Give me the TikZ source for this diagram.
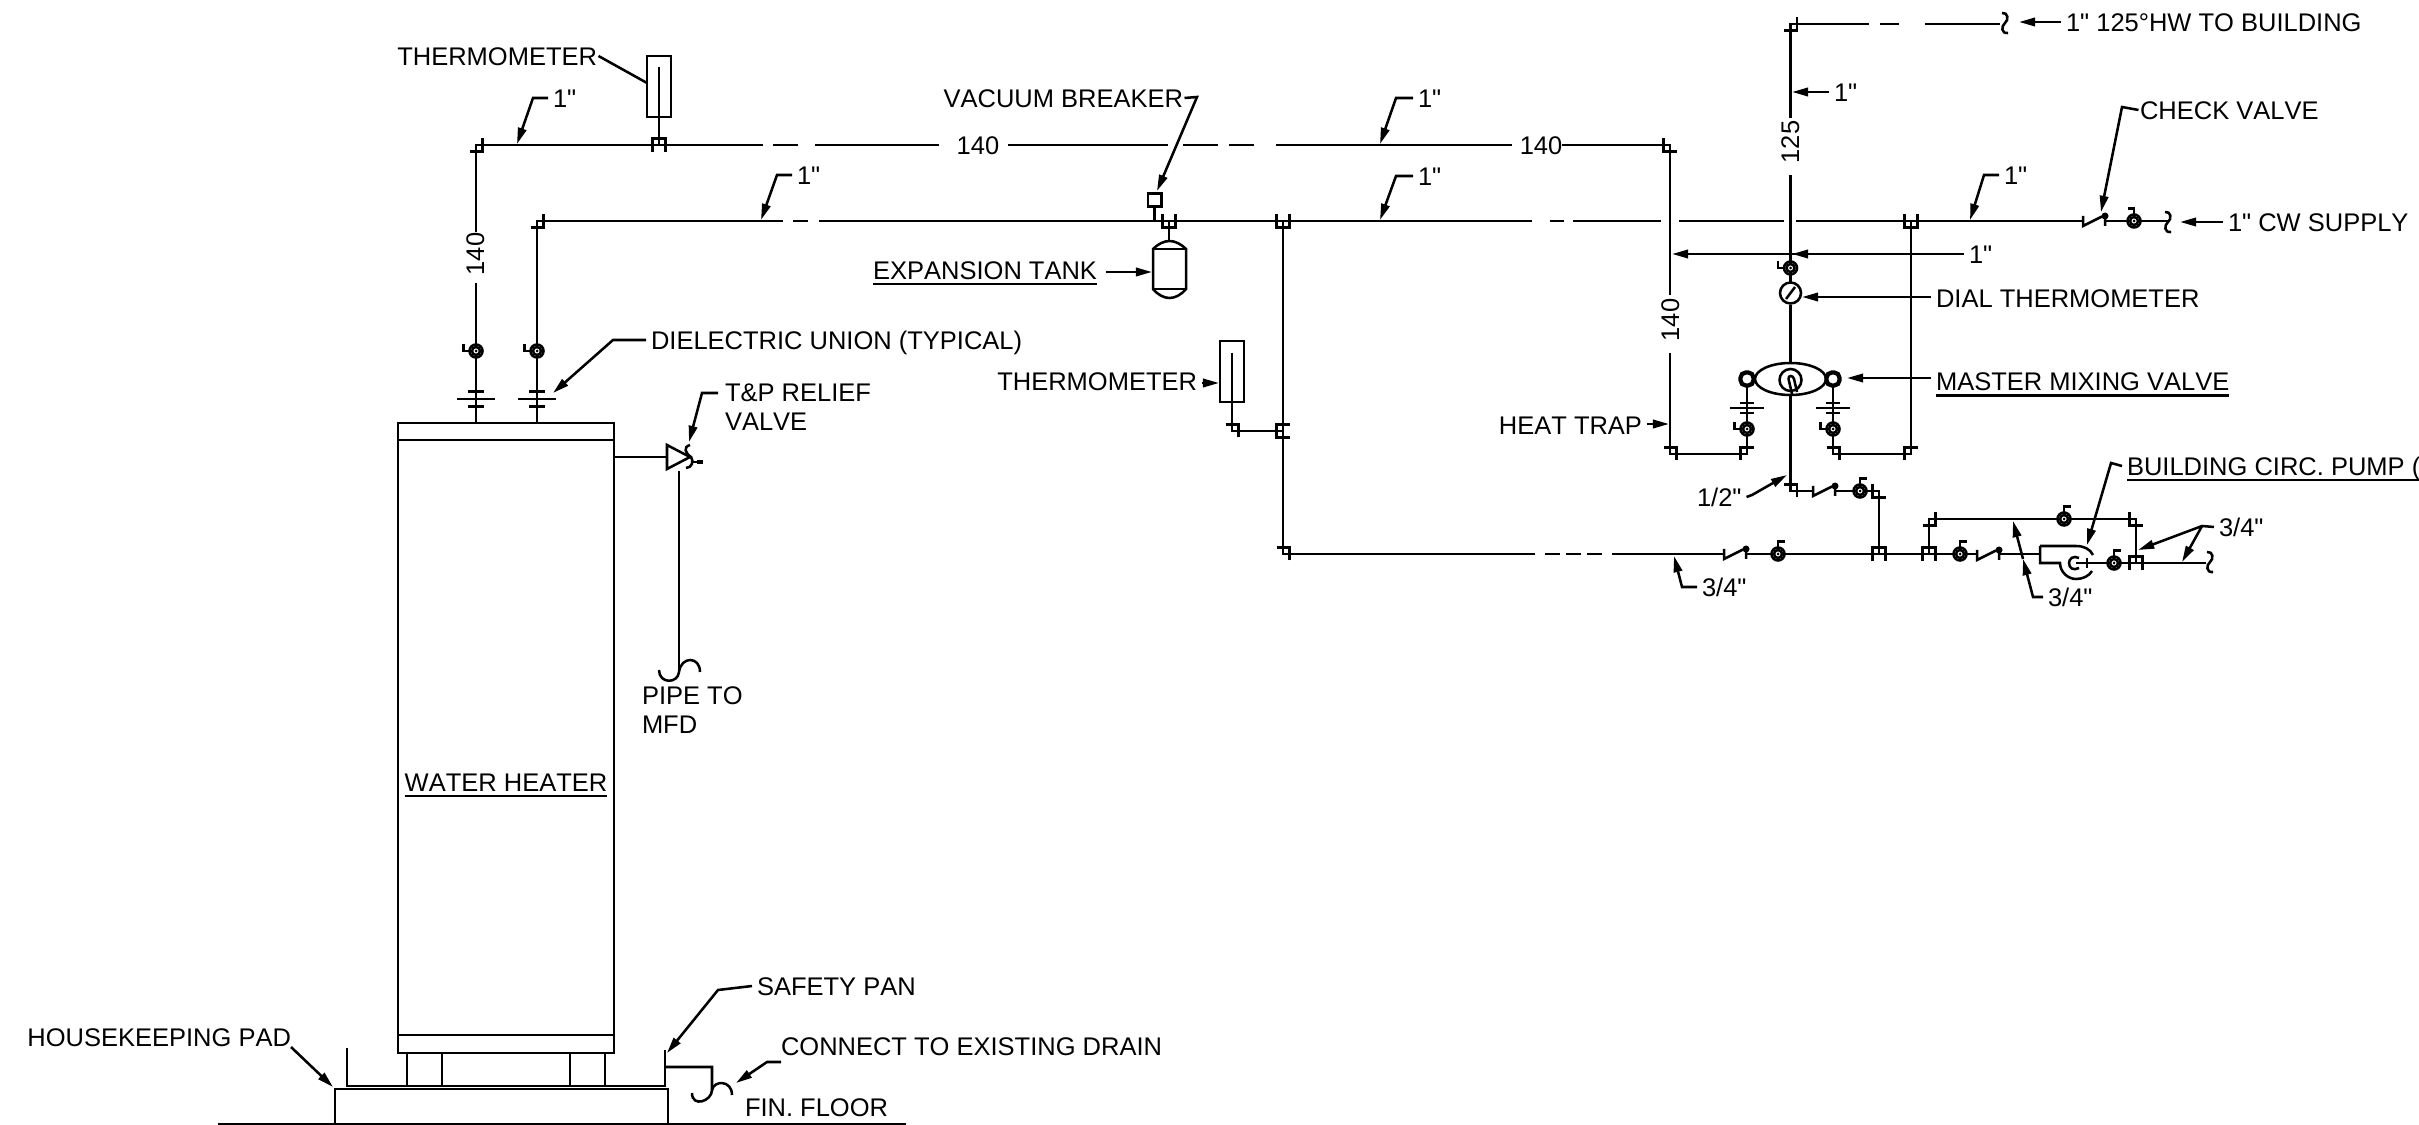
\documentclass[tikz,border=0pt]{standalone}
\usepackage{fontspec}
\setmainfont{Liberation Sans}
\newfontfamily\lblfont{Liberation Sans}[Kerning=Off]
\usetikzlibrary{shapes.geometric, arrows.meta, positioning}
\newcommand{\ulbl}[1]{\setbox0\hbox{#1}\rlap{\rule[-1.7pt]{\wd0}{0.7pt}}\box0}
\tikzset{
  pipe/.style={line width=0.72pt},
  leader/.style={line width=0.72pt, -{Stealth[length=4.6pt, width=2.4pt, inset=0pt]}},
  lbl/.style={inner sep=0pt, outer sep=0.05cm, text height=0.184cm, text depth=0pt, font=\lblfont\fontsize{7.25}{8.3}\selectfont},
  lblblock/.style={inner sep=0pt, outer sep=0pt, align=left, anchor=north west, font=\lblfont\fontsize{7.25}{8.3}\selectfont},
  thermbox/.style={draw, pipe, inner sep=0pt, fill=white, minimum width=0.24cm, minimum height=0.61cm},
  mixport/.style={draw, line width=1.2pt, inner sep=0pt, fill=white, rounded corners=1.5pt, minimum size=0.13cm},
  elbow/.pic={\draw[pipe] (0,0) rectangle (6.5,6.5) (6.5,-6.5) -- (6.5,6.5) (-6.5,6.5) -- (6.5,6.5);},
  teefit/.pic={\draw[pipe] (-6.5,7) -- (-6.5,-6.5) -- (6.5,-6.5) -- (6.5,7);},
  ballvalve/.pic={
    \draw[pipe, fill=white] (0,0) circle[radius=0.065cm];
    \draw[pipe] (0,0) circle[radius=0.04cm];
    \fill (0,0) circle[radius=0.015cm];
    \draw[pipe] (0,-6.5) -- (0,-12.5) -- (6.5,-12.5);
  },
  checkvalve/.pic={
    \draw[white, line width=1.2pt] (1,0) -- (21,0);
    \draw[pipe] (0,-5) -- (0,5) -- (19,-4.5) (22,-5) -- (22,5);
    \fill (22,-5) circle[radius=0.035cm];
  },
  unionfit/.pic={\draw[pipe] (-8,-7.5) -- (8,-7.5) (-19,0) -- (19,0) (-8,7.5) -- (8,7.5);},
  pipebreak/.pic={\draw[pipe] (-3,-10) .. controls (3,-11) and (4,-3) .. (0,0) .. controls (-4,3) and (-4,11) .. (3,10);},
}
\begin{document}
\begin{tikzpicture}[x=0.01cm, y=-0.01cm]
  \useasboundingbox (0,0) rectangle (2419,1125);

  % Corners of the piping
  \foreach \nm/\pt in {hwA/{476,145}, hwB/{1670,145}, hwC/{1670,454}, hwD/{1747,454},
      cwA/{537,221}, cwB/{1911,221}, cwC/{1911,454}, cwD/{1833,454},
      blA/{1790.5,24}, blB/{1790.5,491}, blC/{1879,491},
      rtA/{1283,221}, rtB/{1283,554}, rtC/{1879,554}, rtD/{1929,554},
      byA/{1929,519}, byB/{2136,519}, byC/{2136,563}}
    \coordinate (\nm) at (\pt);

  % Water heater
  \node[draw, pipe, inner sep=0pt, minimum width=2.16cm, minimum height=6.30cm] (heater) at (506,738) {};
  \draw[pipe] (398,440) -- (614,440) (398,1035) -- (614,1035);
  \node[lbl] (heaterlbl) at (506,782) {\ulbl{WATER HEATER}};
  \draw[pipe] (407,1053) -- (407,1086) (442,1053) -- (442,1086) (570,1053) -- (570,1086) (605,1053) -- (605,1086);
  \draw[pipe] (347,1048) -- (347,1086) -- (665,1086) -- (665,1050);
  \draw[pipe] (665,1067) -- (712,1067) -- (712,1090) .. controls (712,1101) and (692,1108) .. (692,1093);
  \draw[pipe] (712,1090) .. controls (714,1080) and (732,1080) .. (732,1095);
  \draw[pipe] (335,1124) -- (335,1089) -- (668,1089) -- (668,1124);
  \draw[pipe] (218,1124) -- (906,1124);

  % Hot water return, top run
  \draw[pipe] (hwA) -- (763,145) (773,145) -- (798,145) (815,145) -- (939,145)
    (1008,145) -- (1168,145) (1183,145) -- (1218,145) (1229,145) -- (1254,145) (1276,145) -- (1512,145)
    (1562,145) -- (hwB) -- (1670,295) (1670,353) -- (hwC) -- (hwD) -- (1747,372);
  \draw[pipe] (hwA) -- (476,232) (476,283) -- (476,423);
  \node[lbl] (lentopa) at (978,145) {140};
  \node[lbl] (lentopb) at (1541,145) {140};
  \node[lbl, rotate=90] (lenleft) at (475,254) {140};
  \node[lbl, rotate=90] (lentrap) at (1670,320) {140};

  % Cold water run
  \draw[pipe] (cwA) -- (537,423) (cwA) -- (783,221) (793,221) -- (808,221) (819,221) -- (1532,221)
    (1550,221) -- (1564,221) (1573,221) -- (1661,221) (1679,221) -- (1784,221) (1796,221) -- (2168,221);
  \draw[pipe] (cwB) -- (cwC) -- (cwD) -- (1833,372);

  % Building supply riser
  \draw[pipe] (blA) -- (1869,24) (1880,24) -- (1899,24) (1925,24) -- (2000,24);
  \draw[pipe] (blA) -- (1790.5,118) (1790.5,175) -- (1790.5,283);
  \node[lbl, rotate=90] (lenriser) at (1790,142) {125};
  \node[draw, pipe, circle, inner sep=0pt, fill=white, minimum size=0.21cm] (dial) at (1790.5,293) {};
  \draw[pipe] (1786,299) -- (1795,287);
  \node[draw, pipe, ellipse, inner sep=0pt, minimum width=0.71cm, minimum height=0.32cm] (mixvalve) at (1790.5,379) {};
  \draw[pipe] (1790.5,380) circle[radius=0.11cm];
  \draw[pipe] (1788.5,379) .. controls (1788,375) and (1793,375) .. (1794,379) -- (1797,392) (1788.5,379) -- (1792,394);
  \node[mixport] (portl) at (1747,379) {};
  \node[mixport] (portr) at (1833,379) {};
  \draw[pipe] (dial) -- (mixvalve);
  \draw[pipe] (mixvalve) -- (blB) -- (blC) -- (1879,554);

  % Circulation return
  \draw[pipe] (rtA) -- (rtB) (1232,431) -- (rtA |- 1232,431);
  \draw[pipe] (rtB) -- (1535,554) (1545,554) -- (1560,554) (1566,554) -- (1581,554) (1587,554) -- (1602,554) (1612,554) -- (2040,554);
  \draw[pipe] (rtD) -- (byA) -- (byB) -- (byC);
  \draw[pipe] (2040,546) -- (2040,563) -- (2060,563) .. controls (2060,572) and (2068,579) .. (2076,579) .. controls (2083,579) and (2089,576) .. (2092,571);
  \draw[pipe] (2040,546) -- (2076,546) .. controls (2084,546) and (2090,549) .. (2093,555);
  \draw[pipe] (2079,558) .. controls (2073,555) and (2069,559) .. (2069,563) .. controls (2069,568) and (2073,571) .. (2079,568);
  \draw[pipe] (2076,563) -- (2206,563) (2087,558) -- (2087,568);

  % Fittings
  \pic at (hwA) {elbow};
  \pic at (cwA) {elbow};
  \pic at (blA) {elbow};
  \pic at (byA) {elbow};
  \pic[xscale=-1] at (hwB) {elbow};
  \pic[xscale=-1] at (byB) {elbow};
  \pic[xscale=-1] at (blC) {elbow};
  \pic[yscale=-1] at (hwC) {elbow};
  \pic[yscale=-1] at (cwD) {elbow};
  \pic[yscale=-1] at (blB) {elbow};
  \pic[yscale=-1] at (rtB) {elbow};
  \pic[yscale=-1] at (1232,431) {elbow};
  \pic[xscale=-1, yscale=-1] at (hwD) {elbow};
  \pic[xscale=-1, yscale=-1] at (cwC) {elbow};
  \pic at (659,145) {teefit};
  \pic at (rtC) {teefit};
  \pic at (rtD) {teefit};
  \pic at (byC) {teefit};
  \pic[yscale=-1] at (1169,221) {teefit};
  \pic[yscale=-1] at (rtA) {teefit};
  \pic[yscale=-1] at (cwB) {teefit};
  \pic[rotate=90] at (1283,431) {teefit};
  \foreach \pt in {{1778,554}, {1860,491}, {1960,554}, {2064,519}, {2114,563}}
    \pic at (\pt) {ballvalve};
  \foreach \pt in {{476,351}, {537,351}, {1747,429}, {1833,429}, {1790.5,268}}
    \pic[rotate=90] at (\pt) {ballvalve};
  \pic[xscale=-1] at (2134,221) {ballvalve};
  \foreach \pt in {{2083,221}, {1813,491}, {1724,554}, {1977,555}}
    \pic at (\pt) {checkvalve};
  \foreach \pt in {{476,399}, {537,399}}
    \pic at (\pt) {unionfit};
  \foreach \pt in {{1747,408}, {1833,408}}
    \pic[xscale=0.9, yscale=0.67] at (\pt) {unionfit};
  \pic at (2005,23) {pipebreak};
  \pic at (2168,222) {pipebreak};
  \pic at (2210,562) {pipebreak};

  % Thermometers, vacuum breaker, expansion tank
  \node[thermbox] (thermtop) at (659,86.5) {};
  \draw[pipe] (659,67) -- (659,145);
  \node[thermbox] (thermmid) at (1232,371.5) {};
  \draw[pipe] (1232,353) -- (1232,431);
  \node[draw, pipe, inner sep=0pt, minimum size=0.135cm] (vacbreak) at (1154.5,200) {};
  \draw[pipe] (vacbreak) -- (1154.5,221);
  \draw[pipe] (1169,221) -- (1169,241);
  \draw[pipe] (1153,249) .. controls (1158,244) and (1164,241) .. (1169.5,241) .. controls (1175,241) and (1181,244) .. (1186,249)
    -- (1186,289) .. controls (1181,295) and (1175,298) .. (1169.5,298) .. controls (1164,298) and (1158,295) .. (1153,289) -- cycle;
  \draw[pipe] (1153,249) -- (1186,249) (1153,289) -- (1186,289);

  % Relief valve
  \draw[pipe] (614,457) -- (667,457);
  \draw[pipe] (667,445) -- (667,469) -- (690,457) -- cycle;
  \draw[pipe] (690,445) .. controls (683,447) and (685,453) .. (691,457) .. controls (694,461) and (692,468) .. (686,468);
  \draw[pipe] (691,462) -- (700,462);
  \fill (697,460) rectangle (703,464);
  \draw[pipe] (679,471) -- (679,672);
  \draw[pipe] (679,672) .. controls (678,684) and (659,684) .. (659,670);
  \draw[pipe] (679,672) .. controls (681,656) and (700,656) .. (700,672);

  % Labels
  \node[lbl, outer sep=0.015cm, anchor=east] (thermtoplbl) at (598.5,56) {THERMOMETER};
  \node[lbl, anchor=east] (thermmidlbl) at (1202,381) {THERMOMETER};
  \node[lbl, outer sep=0.015cm, anchor=east] (vacbreaklbl) at (1184.5,98) {VACUUM BREAKER};
  \node[lbl, anchor=east] (tanklbl) at (1102,270) {\ulbl{EXPANSION TANK}};
  \node[lbl, anchor=east] (traplbl) at (1647,425) {HEAT TRAP};
  \node[lbl, anchor=east] (padlbl) at (296,1037) {HOUSEKEEPING PAD};
  \node[lbl, anchor=west] (unionlbl) at (646,340) {DIELECTRIC UNION (TYPICAL)};
  \node[lbl, anchor=west] (panlbl) at (752,986) {SAFETY PAN};
  \node[lbl, anchor=west] (drainlbl) at (776,1046) {CONNECT TO EXISTING DRAIN};
  \node[lbl, anchor=west] (floorlbl) at (740,1107) {FIN. FLOOR};
  \node[lblblock] (relieflbl) at (725,384) {T\&P RELIEF\\VALVE};
  \node[lblblock] (mfdlbl) at (642,687) {PIPE TO\\MFD};
  \node[lbl, anchor=west] (buildinglbl) at (2061,22) {1" 125°HW TO BUILDING};
  \node[lbl, anchor=west] (supplylbl) at (2223,222) {1" CW SUPPLY};
  \node[lbl, outer sep=0.015cm, anchor=west] (checklbl) at (2138.5,110) {CHECK VALVE};
  \node[lbl, anchor=west] (diallbl) at (1931,298) {DIAL THERMOMETER};
  \node[lbl, below=0.55cm of diallbl.south west, anchor=north west] (mixlbl) {\ulbl{MASTER MIXING VALVE}};
  \node[lbl, anchor=west] (pumplbl) at (2122,466) {\ulbl{BUILDING CIRC. PUMP (}};
  \node[lbl, anchor=west] (sizea) at (548,98) {1"};
  \node[lbl, anchor=west] (sizeb) at (792,175) {1"};
  \node[lbl, anchor=west] (sizec) at (1413,98) {1"};
  \node[lbl, anchor=west] (sized) at (1413,176) {1"};
  \node[lbl, anchor=west] (sizee) at (1999,175) {1"};
  \node[lbl, anchor=west] (sizef) at (1829,92) {1"};
  \node[lbl, anchor=west] (sizeg) at (1964,254) {1"};
  \node[lbl, anchor=west] (sizeh) at (1692,497) {1/2"};
  \node[lbl, anchor=west] (sizei) at (1697,587) {3/4"};
  \node[lbl, anchor=west] (sizej) at (2043,597) {3/4"};
  \node[lbl, anchor=west] (sizek) at (2214,527) {3/4"};

  % Leaders
  \foreach \nm/\pt in {tipa/{517,144}, tipb/{761,220}, tipc/{1380,144}, tipd/{1380,220}, tipe/{1970,220},
      tipf/{1792,92}, tipg/{1672,254}, tiph/{1792,254}, tipi/{1787,475}, tipj/{1674,556},
      tipk/{2023,559}, tipl/{2013,521}, tipm/{2138,550}, tipn/{2182,562}, tipo/{2087,545},
      tipp/{2101,212}, tipq/{2019,22}, tipr/{2180,222}, tips/{1802,297}, tipt/{1847,378},
      tipu/{1669,424}, tipv/{1157,191}, tipw/{1152,272}, tipx/{1219,383}, tipy/{553,393},
      tipz/{689,442}, tipaa/{667,1053}, tipab/{736,1083}, tipac/{333,1087}}
    \coordinate (\nm) at (\pt);
  \draw[pipe] (thermtoplbl.east) -- (647,83);
  \draw[leader] (sizea.west) -- (533,98) -- (tipa);
  \draw[leader] (sizeb.west) -- (777,175) -- (tipb);
  \draw[leader] (sizec.west) -- (1396,98) -- (tipc);
  \draw[leader] (sized.west) -- (1396,176) -- (tipd);
  \draw[leader] (sizee.west) -- (1984,175) -- (tipe);
  \draw[leader] (sizef.west) -- (tipf);
  \draw[leader] (sizeg.west) -- (tipg);
  \draw[leader] (sizeg.west) -- (tiph);
  \draw[leader] (sizeh.east) -- (1752,495) -- (tipi);
  \draw[leader] (sizei.west) -- (1682,587) -- (tipj);
  \draw[leader] (sizej.west) -- (2033,597) -- (tipk);
  \draw[leader] (2023,559) -- (tipl);
  \draw[leader] (sizek.west) -- (2202,526) -- (tipm);
  \draw[leader] (2202,526) -- (tipn);
  \draw[leader] (pumplbl.west) -- (2111,463) -- (tipo);
  \draw[leader] (checklbl.west) -- (2122,107) -- (tipp);
  \draw[leader] (buildinglbl.west) -- (tipq);
  \draw[leader] (supplylbl.west) -- (tipr);
  \draw[leader] (diallbl.west |- tips) -- (tips);
  \draw[leader] (mixlbl.west |- tipt) -- (tipt);
  \draw[leader] (traplbl.east |- tipu) -- (tipu);
  \draw[leader] (vacbreaklbl.east) -- (1197,97) -- (tipv);
  \draw[leader] ([xshift=0.04cm]tanklbl.east |- tipw) -- (tipw);
  \draw[leader] (thermmidlbl.east |- tipx) -- (tipx);
  \draw[leader] (unionlbl.west) -- (613,340) -- (tipy);
  \draw[leader] (718,393) -- (702,393) -- (tipz);
  \draw[leader] (panlbl.west) -- (718,990) -- (tipaa);
  \draw[leader] (781,1062) -- (767,1062) -- (tipab);
  \draw[leader] (291,1047) -- (tipac);
\end{tikzpicture}
\end{document}
